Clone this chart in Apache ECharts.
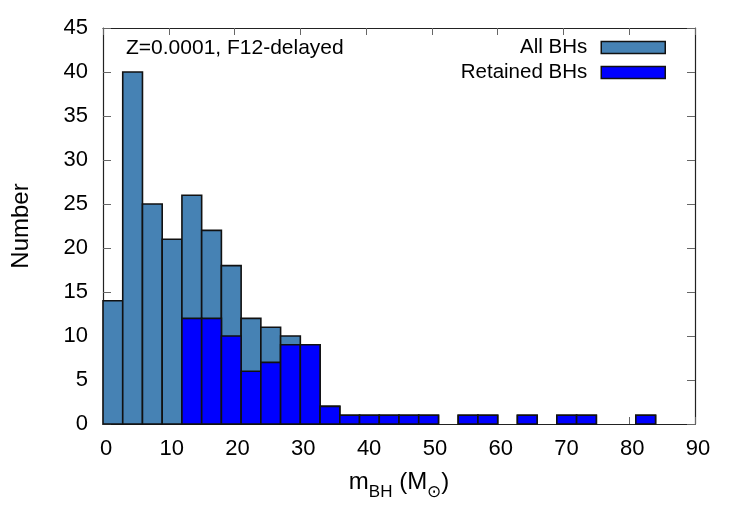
<!DOCTYPE html>
<html>
<head>
<meta charset="utf-8">
<script src="https://cdn.jsdelivr.net/npm/echarts@6/dist/echarts.min.js"></script>
<style>
  html, body { margin: 0; padding: 0; background: #fff; }
  #chart { width: 750px; height: 525px; }
</style>
</head>
<body>
<div id="chart"></div>
<script>
// histogram bins, width 3 Msun
const binLeft = [0, 3, 6, 9, 12, 15, 18, 21, 24, 27, 30, 33, 36, 39, 42, 45, 48, 51, 54, 57, 60, 63, 66, 69, 72, 75, 78, 81];
const binWidth = 3;
const allBHs = [14, 40, 25, 21, 26, 22, 18, 12, 11, 10, 9, 2, 1, 1, 1, 1, 1, 0, 1, 1, 0, 1, 0, 1, 1, 0, 0, 1];
const retainedBHs = [0, 0, 0, 0, 12, 12, 10, 6, 7, 9, 9, 2, 1, 1, 1, 1, 1, 0, 1, 1, 0, 1, 0, 1, 1, 0, 0, 1];
const xTicks = [0, 90, 10];
const yTicks = [0, 45, 5];

const FONT = "'Liberation Sans', Arial, sans-serif";
const allColor = '#4682b4';
const retColor = '#0000ff';

function toRows(counts) {
  const rows = [];
  counts.forEach(function (c, i) {
    if (c > 0) rows.push([binLeft[i], binLeft[i] + binWidth, c]);
  });
  return rows;
}

function histItem(fill) {
  return function (params, api) {
    const p0 = api.coord([api.value(0), api.value(2)]);
    const p1 = api.coord([api.value(1), 0]);
    return {
      type: 'rect',
      shape: { x: p0[0], y: p0[1], width: p1[0] - p0[0], height: p1[1] - p0[1] },
      style: { fill: fill, stroke: '#111', lineWidth: 1.6 }
    };
  };
}

const chart = echarts.init(document.getElementById('chart'));

function xAxisCfg(pos, show) {
  return {
    type: 'value', position: pos, min: xTicks[0], max: xTicks[1], interval: xTicks[2],
    axisLine: { show: true, onZero: false, lineStyle: { color: '#222', width: 1.2 } },
    axisTick: { show: true, inside: true, length: 7, lineStyle: { color: '#666' } },
    axisLabel: { show: show, color: '#000', fontSize: 22, fontFamily: FONT, margin: 14, padding: [0, 0, 0, 6] },
    splitLine: { show: false }
  };
}
function yAxisCfg(pos, show) {
  return {
    type: 'value', position: pos, min: yTicks[0], max: yTicks[1], interval: yTicks[2],
    axisLine: { show: true, onZero: false, lineStyle: { color: '#222', width: 1.2 } },
    axisTick: { show: true, inside: true, length: 8, lineStyle: { color: '#666' } },
    axisLabel: { show: show, color: '#000', fontSize: 22, fontFamily: FONT, margin: 15 },
    splitLine: { show: false }
  };
}

const xBottom = xAxisCfg('bottom', true);
xBottom.name = '{a|m}{s|BH}{a| (M}{s|⊙}{a|)}';
xBottom.nameLocation = 'middle';
xBottom.nameGap = 46;
xBottom.nameTextStyle = {
  rich: {
    a: { fontSize: 24, fontFamily: FONT, color: '#000', lineHeight: 28, verticalAlign: 'top' },
    s: { fontSize: 17, fontFamily: FONT, color: '#000', lineHeight: 28, verticalAlign: 'top', padding: [14, 0, 0, 0] }
  }
};

const yLeft = yAxisCfg('left', true);
yLeft.name = 'Number';
yLeft.nameLocation = 'middle';
yLeft.nameGap = 70;
yLeft.nameTextStyle = { fontSize: 24, fontFamily: FONT, color: '#000' };

chart.setOption({
  animation: false,
  backgroundColor: '#fff',
  title: {
    text: 'Z=0.0001, F12-delayed',
    left: 121, top: 33,
    textStyle: { fontSize: 21, fontWeight: 'normal', fontFamily: FONT, color: '#000' }
  },
  legend: {
    orient: 'vertical',
    right: 84, top: 37, padding: 0,
    align: 'right',
    itemWidth: 64, itemHeight: 12, itemGap: 4,
    textStyle: { fontSize: 20.5, fontFamily: FONT, color: '#000', padding: [0, 9, 0, 0] },
    data: [
      { name: 'All BHs', icon: 'rect', itemStyle: { color: allColor, borderColor: '#111', borderWidth: 1.5 } },
      { name: 'Retained BHs', icon: 'rect', itemStyle: { color: retColor, borderColor: '#111', borderWidth: 1.5 } }
    ]
  },
  grid: { left: 103, right: 55, top: 28, bottom: 101 },
  xAxis: [xBottom, xAxisCfg('top', false)],
  yAxis: [yLeft, yAxisCfg('right', false)],
  series: [
    {
      name: 'All BHs', type: 'custom', renderItem: histItem(allColor),
      itemStyle: { color: allColor },
      encode: { x: [0, 1], y: 2 },
      data: toRows(allBHs)
    },
    {
      name: 'Retained BHs', type: 'custom', renderItem: histItem(retColor),
      itemStyle: { color: retColor },
      encode: { x: [0, 1], y: 2 },
      data: toRows(retainedBHs)
    }
  ]
});
</script>
</body>
</html>
